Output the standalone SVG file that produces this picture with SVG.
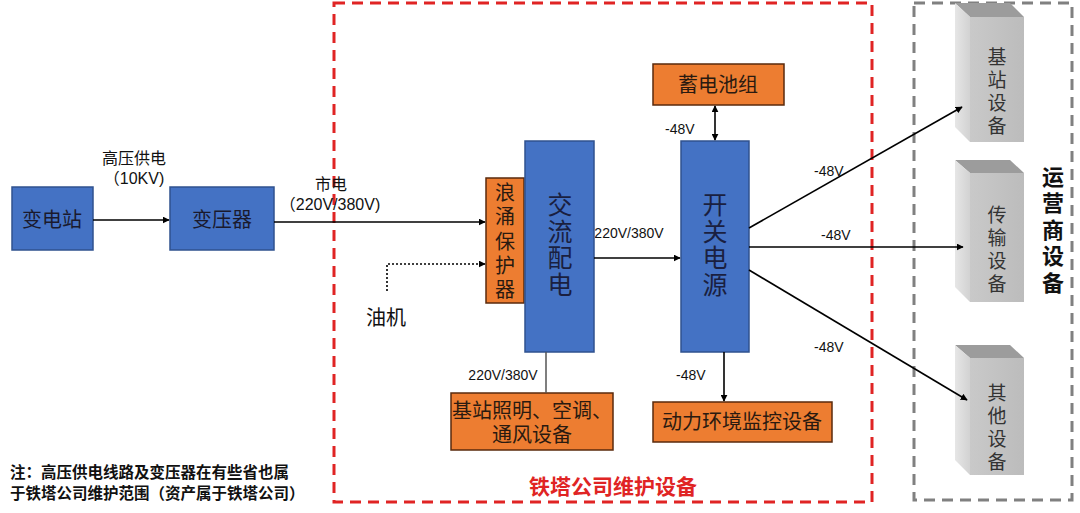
<svg xmlns="http://www.w3.org/2000/svg" width="1080" height="513" viewBox="0 0 1080 513">
<defs>
<marker id="ah" viewBox="0 0 10 10" refX="9" refY="5" markerWidth="7" markerHeight="7" markerUnits="userSpaceOnUse" orient="auto-start-reverse"><path d="M0,0 L10,5 L0,10 z" fill="#000"/></marker>
<linearGradient id="lf" x1="0" y1="0" x2="1" y2="0"><stop offset="0" stop-color="#e6e6e6"/><stop offset="1" stop-color="#d2d2d2"/></linearGradient>
<linearGradient id="ff" x1="0" y1="0" x2="1" y2="0"><stop offset="0" stop-color="#c9c9c9"/><stop offset="1" stop-color="#bcbcbc"/></linearGradient>
</defs>
<style>
text{font-family:"Liberation Sans","Noto Sans CJK SC",sans-serif;fill:#111}
.blue{fill:#4472C4;stroke:#2F528F;stroke-width:1.5}
.org{fill:#ED7D31;stroke:#5a2a0c;stroke-width:1.5}
.bt{font-size:20px;text-anchor:middle;fill:#1a1a2e}
.big{font-size:25px;text-anchor:middle;fill:#1a1f40}
.ot{font-size:20px;text-anchor:middle;fill:#2a1a10}
.lbl{font-size:14px;fill:#111}
.lbl2{font-size:16px;fill:#111;text-anchor:middle}
.ln{stroke:#000;stroke-width:1.6;fill:none}
.gt{font-size:19px;text-anchor:middle;fill:#333}
.top{fill:#9c9c9c}
.lface{fill:url(#lf)}
.fface{fill:url(#ff)}
</style>
<rect width="1080" height="513" fill="#fff"/>

<!-- region frames -->
<rect x="334" y="3" width="538" height="499" fill="none" stroke="#e02424" stroke-width="3" stroke-dasharray="11,7"/>
<rect x="914" y="3" width="158" height="497" fill="none" stroke="#808080" stroke-width="3" stroke-dasharray="11,7"/>

<g id="labels">
<text class="lbl2" x="134" y="164">高压供电</text>
<text class="lbl2" x="134" y="184">（10KV)</text>
<text class="lbl2" x="331" y="190">市电</text>
<text class="lbl2" x="330" y="210">（220V/380V)</text>
<text x="386" y="325" font-size="20" text-anchor="middle">油机</text>
<text class="lbl" x="629" y="238" text-anchor="middle">220V/380V</text>
<text class="lbl" x="665" y="134">-48V</text>
<text class="lbl" x="503" y="380" text-anchor="middle">220V/380V</text>
<text class="lbl" x="676" y="380">-48V</text>
<text class="lbl" x="814" y="176">-48V</text>
<text class="lbl" x="821" y="240">-48V</text>
<text class="lbl" x="814" y="352">-48V</text>
</g>

<g id="n-substation"><rect class="blue" x="12" y="187" width="81" height="63"/><text class="bt" x="52" y="227">变电站</text></g>
<g id="n-transformer"><rect class="blue" x="170" y="187" width="104" height="63"/><text class="bt" x="222" y="227">变压器</text></g>
<g id="n-surge"><rect class="org" x="486" y="178" width="38" height="125"/>
<text class="ot" x="505"><tspan x="505" y="200">浪</tspan><tspan x="505" y="224">涌</tspan><tspan x="505" y="249">保</tspan><tspan x="505" y="273">护</tspan><tspan x="505" y="297">器</tspan></text></g>
<g id="n-acdist"><rect class="blue" x="525" y="141" width="69" height="211"/>
<text class="big"><tspan x="560" y="214">交</tspan><tspan x="560" y="241">流</tspan><tspan x="560" y="267">配</tspan><tspan x="560" y="294">电</tspan></text></g>
<g id="n-rectifier"><rect class="blue" x="681" y="141" width="68" height="211"/>
<text class="big"><tspan x="715" y="214">开</tspan><tspan x="715" y="241">关</tspan><tspan x="715" y="267">电</tspan><tspan x="715" y="294">源</tspan></text></g>
<g id="n-battery"><rect class="org" x="653" y="64" width="131" height="41"/><text class="ot" x="718" y="92">蓄电池组</text></g>
<g id="n-lighting"><rect class="org" x="451" y="393" width="162" height="57"/><text class="ot" x="532" y="418">基站照明、空调、</text><text class="ot" x="532" y="442">通风设备</text></g>
<g id="n-monitor"><rect class="org" x="653" y="402" width="179" height="40"/><text class="ot" x="742" y="429">动力环境监控设备</text></g>

<g id="n-bts">
<polygon class="top" points="955,3 1010,3 1024,17 970,17"/>
<polygon class="lface" points="955,3 970,17 970,142 955,127"/>
<rect class="fface" x="970" y="17" width="54" height="125"/>
<text class="gt"><tspan x="997" y="64">基</tspan><tspan x="997" y="87">站</tspan><tspan x="997" y="110">设</tspan><tspan x="997" y="133">备</tspan></text>
</g>
<g id="n-trans">
<polygon class="top" points="955,160 1010,160 1024,173 970,173"/>
<polygon class="lface" points="955,160 970,173 970,302 955,287"/>
<rect class="fface" x="970" y="173" width="54" height="129"/>
<text class="gt"><tspan x="997" y="222">传</tspan><tspan x="997" y="245">输</tspan><tspan x="997" y="268">设</tspan><tspan x="997" y="291">备</tspan></text>
</g>
<g id="n-other">
<polygon class="top" points="955,345 1010,345 1024,358 970,358"/>
<polygon class="lface" points="955,345 970,358 970,475 955,460"/>
<rect class="fface" x="970" y="358" width="54" height="117"/>
<text class="gt"><tspan x="997" y="400">其</tspan><tspan x="997" y="423">他</tspan><tspan x="997" y="446">设</tspan><tspan x="997" y="469">备</tspan></text>
</g>

<g id="connectors">
<line class="ln" x1="93" y1="220" x2="169" y2="220" marker-end="url(#ah)"/>
<line class="ln" x1="274" y1="222" x2="485" y2="222" marker-end="url(#ah)"/>
<polyline fill="none" stroke="#000" stroke-width="1.6" stroke-dasharray="2,2" points="387,291 387,264 485,264" marker-end="url(#ah)"/>
<line class="ln" x1="594" y1="258" x2="680" y2="258" marker-end="url(#ah)"/>
<line class="ln" x1="715" y1="106" x2="715" y2="140" marker-start="url(#ah)" marker-end="url(#ah)"/>
<line x1="546" y1="352" x2="546" y2="393" stroke="#555" stroke-width="1.5"/>
<line class="ln" x1="724" y1="352" x2="724" y2="401" marker-end="url(#ah)"/>
<line class="ln" x1="749" y1="228" x2="962" y2="107" marker-end="url(#ah)"/>
<line class="ln" x1="749" y1="247" x2="963" y2="247" marker-end="url(#ah)"/>
<line class="ln" x1="749" y1="270" x2="967" y2="400" marker-end="url(#ah)"/>
</g>

<g id="titles">
<text font-size="22" font-weight="bold" text-anchor="middle" fill="#111"><tspan x="1053" y="185">运</tspan><tspan x="1053" y="211">营</tspan><tspan x="1053" y="238">商</tspan><tspan x="1053" y="264">设</tspan><tspan x="1053" y="291">备</tspan></text>
<text x="613" y="494" font-size="21" font-weight="bold" text-anchor="middle" style="fill:#e02424">铁塔公司维护设备</text>
<text x="10" y="478" font-size="15.5" font-weight="bold">注：高压供电线路及变压器在有些省也属</text>
<text x="10" y="499" font-size="15.5" font-weight="bold">于铁塔公司维护范围（资产属于铁塔公司）</text>
</g>
</svg>
